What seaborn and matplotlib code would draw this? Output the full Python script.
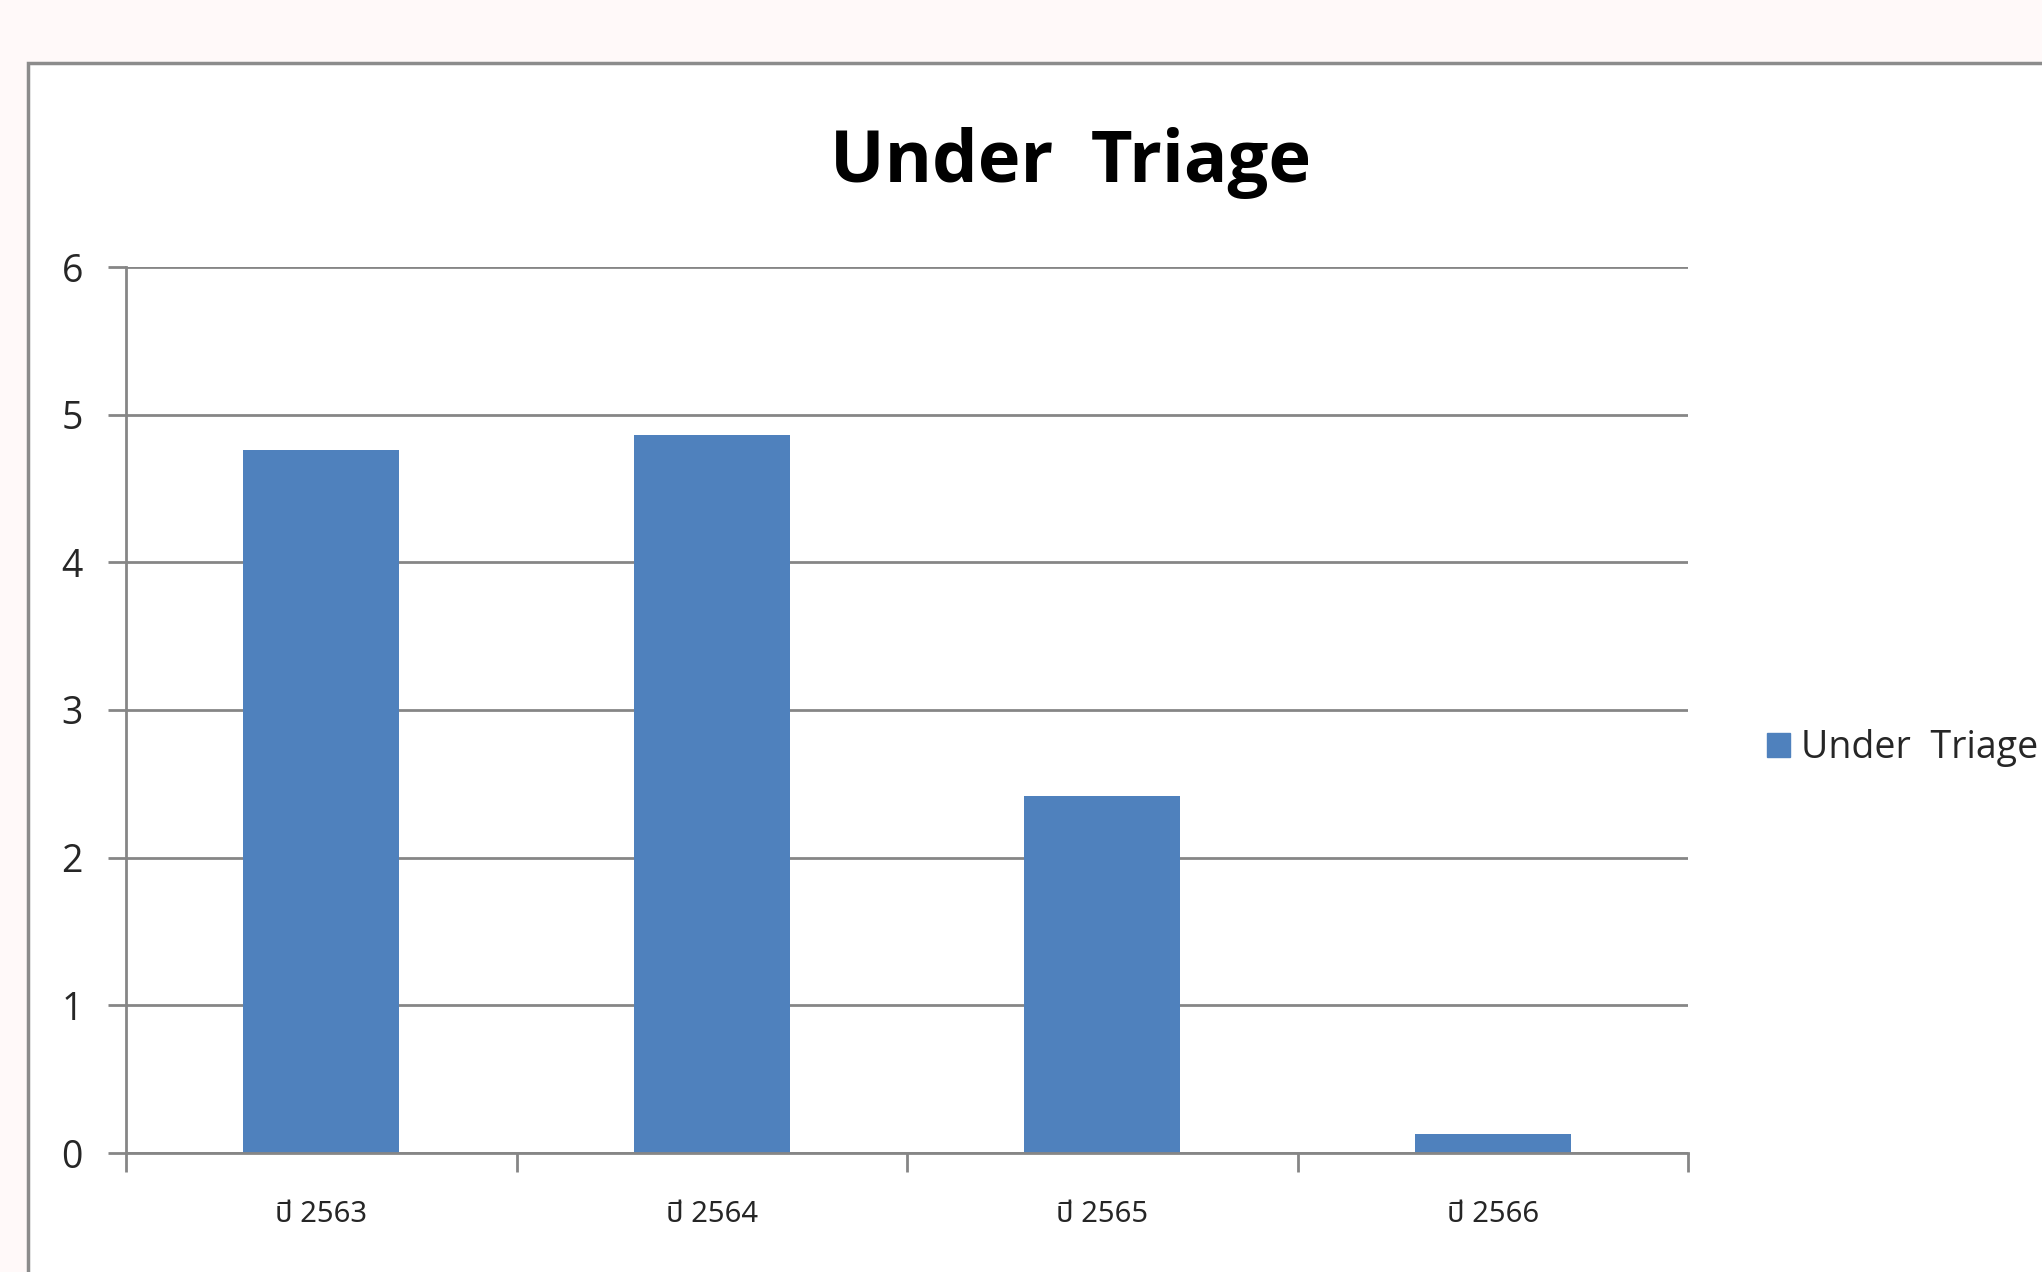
import matplotlib
matplotlib.use("Agg")
import matplotlib.pyplot as plt
from matplotlib import font_manager as fm
from matplotlib.patches import Rectangle, Patch
import seaborn as sns
import pandas as pd

categories = ["ปี 2563", "ปี 2564", "ปี 2565", "ปี 2566"]
values = [4.76, 4.86, 2.42, 0.13]
series_name = "Under  Triage"
title = "Under  Triage"
yticks = [0, 1, 2, 3, 4, 5, 6]

names = {f.name for f in fm.fontManager.ttflist}
def pick(cands, default="DejaVu Sans"):
    for c in cands:
        if c in names:
            return c
    return default

latin = pick(["Open Sans", "Lato"])
thai = pick(["Noto Sans Thai", "Sarabun", "IBM Plex Sans Thai", "Niramit"])

sns.set_theme(style="white")
plt.rcParams["font.family"] = [latin, thai, "DejaVu Sans"]

BLUE = "#4F81BD"
GRID = "#868686"
TEXT = "#262626"

fig = plt.figure(figsize=(20.42, 12.72), dpi=100)
fig.patch.set_facecolor("#FFF9F9")
frame = Rectangle((28 / 2042, -0.1), 1.2, (1272 - 63) / 1272 + 0.1,
                  transform=fig.transFigure, facecolor="white",
                  edgecolor="#8C8C8C", linewidth=2.5, zorder=-5)
fig.patches.append(frame)

ax = fig.add_axes([126 / 2042, 119 / 1272, (1688 - 126) / 2042, (1153 - 267) / 1272])
ax.set_zorder(2)
ax.set_facecolor("white")

df = pd.DataFrame({"cat": categories, "val": values})
sns.barplot(data=df, x="cat", y="val", color=BLUE, saturation=1, width=0.4,
            linewidth=0, edgecolor="none", ax=ax, zorder=3)

ax.set_ylim(0, 6)
ax.set_xlim(-0.5, len(categories) - 0.5)
ax.set_yticks(yticks)
ax.set_yticklabels([str(t) for t in yticks], fontsize=27, color=TEXT,
                   family=[latin, "DejaVu Sans"])
ax.set_xticks([i - 0.5 for i in range(len(categories) + 1)])
ax.set_xticklabels([""] * (len(categories) + 1))
ax.set_xticks(range(len(categories)), minor=True)
ax.set_xticklabels(categories, minor=True, fontsize=21, color=TEXT,
                   family=[thai, "DejaVu Sans"])
ax.tick_params(bottom=True, left=True, which="both")
ax.tick_params(axis="x", which="minor", length=0, pad=34)
ax.tick_params(axis="x", which="major", length=14, width=2, color=GRID, direction="out")
ax.tick_params(axis="y", which="major", length=13, width=2, color=GRID, direction="out", pad=18)
ax.set_xlabel("")
ax.set_ylabel("")

ax.yaxis.grid(True, color=GRID, linewidth=2)
ax.set_axisbelow(True)
for s in ["top", "right"]:
    ax.spines[s].set_visible(False)
for s in ["left", "bottom"]:
    ax.spines[s].set_color(GRID)
    ax.spines[s].set_linewidth(2)
    ax.spines[s].set_zorder(4)

fig.text(1071 / 2042, 1 - 163 / 1272, title, ha="center", va="center",
         fontsize=52, fontweight="bold", color="black", family=[latin, "DejaVu Sans"])

handle = Patch(facecolor=BLUE, edgecolor=BLUE)
leg = fig.legend([handle], [series_name], loc="center left",
                 bbox_to_anchor=(1733 / 2042, 1 - 748 / 1272), frameon=False,
                 handlelength=0.62, handleheight=0.62, handletextpad=0.3,
                 prop={"family": [latin, "DejaVu Sans"], "size": 27})
for t in leg.get_texts():
    t.set_color(TEXT)

fig.savefig("out.png", dpi=100, facecolor=fig.get_facecolor())
